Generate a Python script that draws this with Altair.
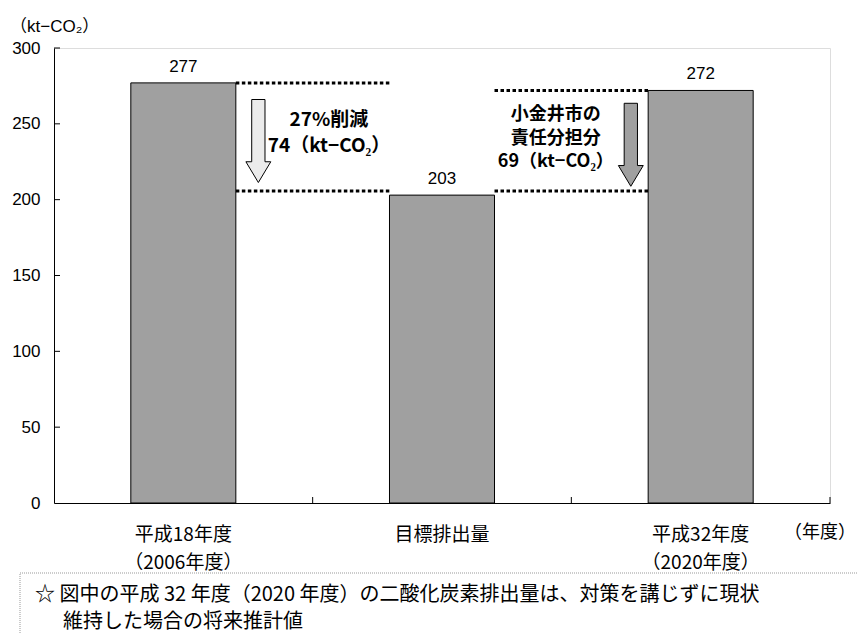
import altair as alt
import pandas as pd

# Emissions per scenario (kt-CO2)
categories = ["平成18年度\n（2006年度）", "目標排出量", "平成32年度\n（2020年度）"]
emissions = [277, 203, 272]

# Reduction annotations between the bars
cut_text = "27%削減\n74（kt−CO₂）"
share_text = "小金井市の\n責任分担分\n69（kt−CO₂）"

footnote_1 = "☆ 図中の平成 32 年度（2020 年度）の二酸化炭素排出量は、対策を講じずに現状"
footnote_2 = "維持した場合の将来推計値"

y_ticks = [0, 50, 100, 150, 200, 250, 300]
x_bounds = [1, 2, 3]

W, H = 776, 455
BAR_HALF = 0.203  # half bar width in category units

JP = "Noto Sans CJK JP"
LAT = "Liberation Sans, Noto Sans CJK JP"

bars_df = pd.DataFrame({"cat": categories, "val": emissions, "idx": [0, 1, 2]})
bars_df["c"] = bars_df["idx"] + 0.5
bars_df["x0"] = bars_df["c"] - BAR_HALF
bars_df["x1"] = bars_df["c"] + BAR_HALF
bars_df["base"] = 0

xs = alt.Scale(domain=[0, 3], nice=False, zero=False)
ys = alt.Scale(domain=[0, 300], nice=False)

base = alt.Chart(bars_df)

bars = base.mark_bar(color="#a0a0a0", stroke="black", strokeWidth=1).encode(
    x=alt.X("x0:Q", scale=xs,
            axis=alt.Axis(labels=False, ticks=False, title=None, grid=False,
                          domainColor="black", domainWidth=1)),
    x2="x1:Q",
    y=alt.Y("val:Q", scale=ys,
            axis=alt.Axis(values=y_ticks, ticks=False, grid=False, title=None,
                          labelFont="Liberation Sans", labelFontSize=17,
                          labelColor="black", labelPadding=14,
                          domainColor="black", domainWidth=1)),
    y2="base:Q",
)

values = base.mark_text(font="Liberation Sans", fontSize=17, color="black",
                        baseline="alphabetic", dy=-11).encode(
    x=alt.X("c:Q", scale=xs), y=alt.Y("val:Q", scale=ys), text="val:Q")

cat_labels = base.mark_text(font=JP, fontSize=19, color="black", baseline="middle",
                            lineBreak="\n", lineHeight=28).encode(
    x=alt.X("c:Q", scale=xs), y=alt.value(H + 32), text="cat:N")

# inward ticks
ytick_df = pd.DataFrame({"v": y_ticks[1:]})
yticks = alt.Chart(ytick_df).mark_rule(color="black", strokeWidth=1).encode(
    y=alt.Y("v:Q", scale=ys), x=alt.value(0), x2=alt.value(6))
xtick_df = pd.DataFrame({"b": x_bounds})
xticks = alt.Chart(xtick_df).mark_rule(color="black", strokeWidth=1).encode(
    x=alt.X("b:Q", scale=xs), y=alt.value(H), y2=alt.value(H - 6))

# dotted guide lines from bar edge to bar edge
pairs = pd.DataFrame({
    "a": [0.5 + BAR_HALF, 0.5 + BAR_HALF, 1.5 + BAR_HALF, 1.5 + BAR_HALF],
    "b": [1.5 - BAR_HALF, 1.5 - BAR_HALF, 2.5 - BAR_HALF, 2.5 - BAR_HALF],
    "lvl": [emissions[0], emissions[1], emissions[2], emissions[1]],
    "kind": ["hi", "lo", "hi", "lo"],
})
upper = alt.Chart(pairs).transform_filter("datum.kind == 'hi'").mark_rule(
    color="black", strokeWidth=3, strokeDash=[3.5, 2.5]).encode(
    x=alt.X("a:Q", scale=xs), x2="b:Q", y=alt.Y("lvl:Q", scale=ys))
lower = alt.Chart(pairs).transform_filter("datum.kind == 'lo'").mark_rule(
    color="black", strokeWidth=3, strokeDash=[3.5, 2.5], yOffset=-4).encode(
    x=alt.X("a:Q", scale=xs), x2="b:Q", y=alt.Y("lvl:Q", scale=ys))

# down arrows
ARROW = ("M -0.16 -1 L 0.16 -1 L 0.16 0.5 L 0.3 0.5 L 0 1 "
         "L -0.3 0.5 L -0.16 0.5 Z")
arrow_df = pd.DataFrame({
    "x": [0.79, 2.23],
    "y": [(emissions[0] + emissions[1]) / 2, (emissions[2] + emissions[1]) / 2],
    "fill": ["#ebebeb", "#a0a0a0"],
})
arrows = alt.Chart(arrow_df).mark_point(shape=ARROW, size=6889, filled=True,
                                        stroke="black", strokeWidth=1,
                                        opacity=1, yOffset=2).encode(
    x=alt.X("x:Q", scale=xs), y=alt.Y("y:Q", scale=ys),
    fill=alt.Fill("fill:N", scale=None))

cut_note = alt.Chart(pd.DataFrame({"x": [1.063], "y": [252.5], "t": [cut_text]})).mark_text(
    font=JP, fontSize=19, fontWeight="bold", color="black", baseline="middle",
    lineBreak="\n", lineHeight=26).encode(
    x=alt.X("x:Q", scale=xs), y=alt.Y("y:Q", scale=ys), text="t:N")

share_note = alt.Chart(pd.DataFrame({"x": [1.94], "y": [255.8], "t": [share_text]})).mark_text(
    font=JP, fontSize=18, fontWeight="bold", color="black", baseline="middle",
    lineBreak="\n", lineHeight=23.5).encode(
    x=alt.X("x:Q", scale=xs), y=alt.Y("y:Q", scale=ys), text="t:N")

unit = alt.Chart(pd.DataFrame({"t": ["（kt−CO₂）"]})).mark_text(
    font=LAT, fontSize=17, color="black", align="left", baseline="middle").encode(
    x=alt.value(-44), y=alt.value(-21), text="t:N")

year_unit = alt.Chart(pd.DataFrame({"t": ["（年度）"]})).mark_text(
    font=JP, fontSize=18, color="black", align="right", baseline="middle").encode(
    x=alt.value(W + 26), y=alt.value(H + 30), text="t:N")

box = alt.Chart(pd.DataFrame({"k": [0]})).mark_rect(
    fill="white", fillOpacity=0, stroke="#999999", strokeWidth=1,
    strokeDash=[1, 1]).encode(
    x=alt.value(-34), x2=alt.value(840), y=alt.value(H + 70), y2=alt.value(H + 140))

note_1 = alt.Chart(pd.DataFrame({"t": [footnote_1]})).mark_text(
    font=JP, fontSize=20, color="black", align="left", baseline="middle").encode(
    x=alt.value(-19), y=alt.value(H + 92), text="t:N")
note_2 = alt.Chart(pd.DataFrame({"t": [footnote_2]})).mark_text(
    font=JP, fontSize=20, color="black", align="left", baseline="middle").encode(
    x=alt.value(9), y=alt.value(H + 119), text="t:N")

chart = alt.layer(
    box, bars, values, upper, lower, arrows, cut_note, share_note, yticks, xticks,
    cat_labels, unit, year_unit, note_1, note_2,
).properties(
    width=W, height=H,
    autosize=alt.AutoSizeParams(type="none"),
    padding={"left": 54, "top": 48, "right": 28, "bottom": 130},
).configure_view(stroke=None).configure(background="white")

chart.save("out.html", embed_options={"renderer": "svg", "actions": False})
